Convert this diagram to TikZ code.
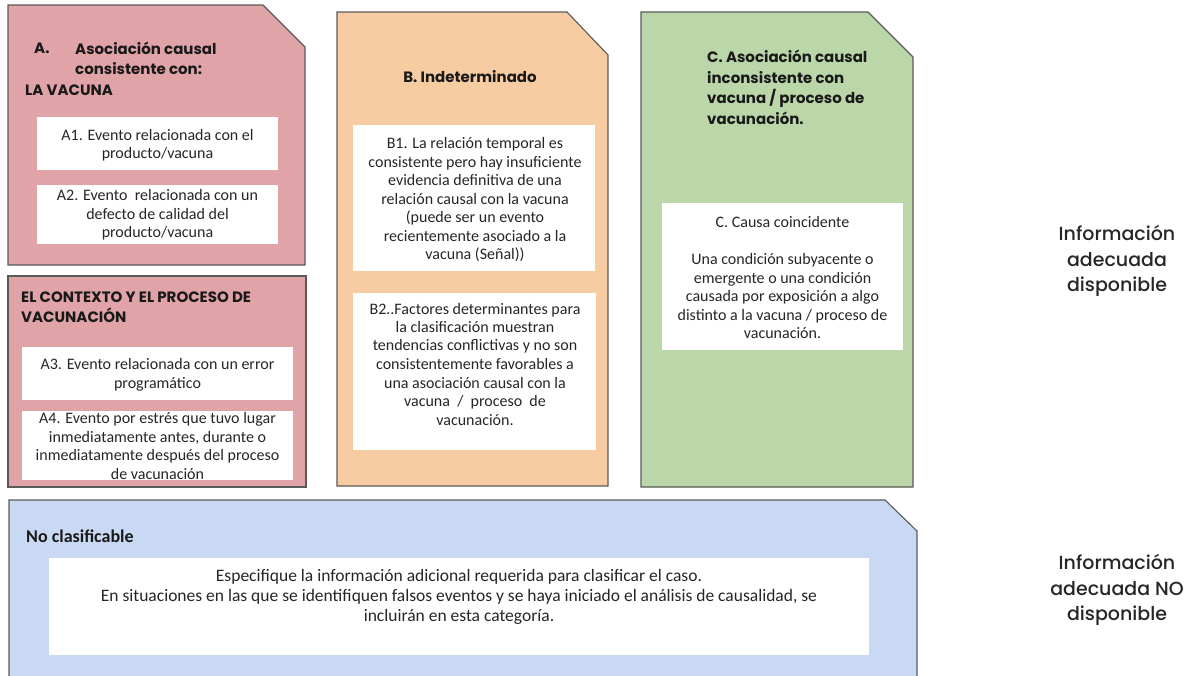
\documentclass[tikz,border=0pt]{standalone}
\usepackage{fontspec}
\setmainfont{Carlito}
\newfontfamily\headfont{Poppins}
\newfontfamily\sidefont{Poppins Medium}
\newfontfamily\bodyfont{Carlito}
\definecolor{panelA}{HTML}{E0A3A7}
\definecolor{panelB}{HTML}{F7CCA2}
\definecolor{panelC}{HTML}{BBD7A9}
\definecolor{panelD}{HTML}{C9D9F3}
\definecolor{edge}{HTML}{5A5A5A}
\definecolor{ink}{HTML}{262626}
\tikzset{
  panel/.style={draw=edge, line width=1.1pt, line join=miter},
  card/.style={fill=white, draw=none, inner sep=0pt},
  body/.style={font=\bodyfont\fontsize{16}{18.5}\selectfont, text=ink, align=center, inner sep=0pt},
  bigbody/.style={font=\bodyfont\fontsize{17.5}{20}\selectfont, text=ink, align=center, inner sep=0pt},
  head/.style={font=\headfont\bfseries\fontsize{15}{20.5}\selectfont, text=black!90, inner sep=0pt},
  side/.style={font=\sidefont\fontsize{19}{25.5}\selectfont, text=ink, align=center, inner sep=0pt}
}
\begin{document}
\begin{tikzpicture}[x=1pt,y=-1pt]
\useasboundingbox[fill=white] (0,0) rectangle (1188,675);

% coloured panels
\draw[panel, fill=panelA] (8,5) -- (263,5) -- (305,47) -- (305,265) -- (8,265) -- cycle;
\draw[panel, fill=panelA] (8,276) rectangle (306,487);
\draw[panel, fill=panelB] (337,12) -- (567,12) -- (608,55) -- (608,486) -- (337,486) -- cycle;
\draw[panel, fill=panelC] (641,12) -- (868,12) -- (913,57) -- (913,487) -- (641,487) -- cycle;
\draw[panel, fill=panelD] (9,500) -- (885,500) -- (917,531) -- (917,690) -- (9,690) -- cycle;

% white cards
\node[card, minimum width=241pt, minimum height=53pt] (a1box) at (157.5,143.5) {};
\node[card, minimum width=241pt, minimum height=59pt] (a2box) at (157.5,214.5) {};
\node[card, minimum width=271pt, minimum height=53pt] (a3box) at (157.5,373.5) {};
\node[card, minimum width=271pt, minimum height=69pt] (a4box) at (157.5,445.5) {};
\node[card, minimum width=242pt, minimum height=146pt] (b1box) at (474,198) {};
\node[card, minimum width=243pt, minimum height=157pt] (b2box) at (474.5,371.5) {};
\node[card, minimum width=241pt, minimum height=147pt] (c1box) at (782.5,276.5) {};
\node[card, minimum width=820pt, minimum height=97pt] (d1box) at (459,606.5) {};

% panel headings
\node[head, anchor=west] (hA) at (34,48) {A.};
\node[head, anchor=west, align=left] (hA2) at (75,58.5) {Asociación causal\\consistente con:};
\node[head, anchor=west] (hA3) at (25,90) {LA VACUNA};
\node[head, anchor=west, align=left] (hAb) at (21,307) {EL CONTEXTO Y EL PROCESO DE\\VACUNACIÓN};
\node[head] (hB) at (470,77) {B. Indeterminado};
\node[head, anchor=west, align=left] (hC) at (707,87.5) {C. Asociación causal\\inconsistente con\\vacuna / proceso de\\vacunación.};
\node[font=\bodyfont\bfseries\fontsize{18}{20}\selectfont, text=black!90, inner sep=0pt, anchor=west] (hD) at (26,536) {No clasificable};

% card texts
\node[body] (a1) at (157.5,145) {A1. Evento relacionada con el\\producto/vacuna};
\node[body] (a2) at (157.5,215) {A2. Evento\ \ relacionada con un\\defecto de calidad del\\producto/vacuna};
\node[body] (a3) at (157.5,375) {A3. Evento relacionada con un error\\programático};
\node[body] (a4) at (157.5,446) {A4. Evento por estrés que tuvo lugar\\inmediatamente antes, durante o\\inmediatamente después del proceso\\de vacunación};
\node[body] (b1) at (475,200) {B1. La relación temporal es\\consistente pero hay insuficiente\\evidencia definitiva de una\\relación causal con la vacuna\\(puede ser un evento\\recientemente asociado a la\\vacuna (Señal))};
\node[body] (b2) at (475,364) {B2..Factores determinantes para\\la clasificación muestran\\tendencias conflictivas y no son\\consistentemente favorables a\\una asociación causal con la\\vacuna\ \ /\ \ proceso\ \ de\\vacunación.};
\node[body] (c1) at (782.5,278) {C. Causa coincidente\\[18.5pt]Una condición subyacente o\\emergente o una condición\\causada por exposición a algo\\distinto a la vacuna / proceso de\\vacunación.};
\node[bigbody] (d1) at (459,597) {Especifique la información adicional requerida para clasificar el caso.\\En situaciones en las que se identifiquen falsos eventos y se haya iniciado el análisis de causalidad, se\\incluirán en esta categoría.};

% row labels on the right
\node[side] (top) at (1117,261) {Información\\adecuada\\disponible};
\node[side] (bottom) at (1117,590) {Información\\adecuada NO\\disponible};
\end{tikzpicture}
\end{document}
